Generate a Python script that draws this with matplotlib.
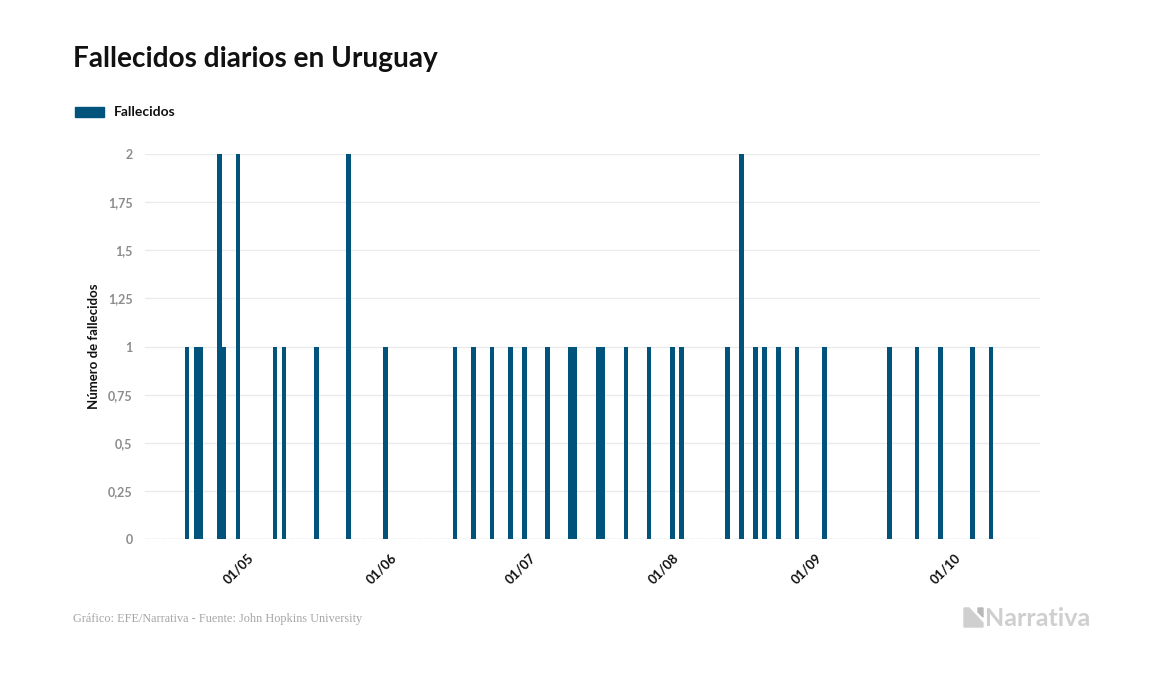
import numpy as np
import pandas as pd
import matplotlib
matplotlib.use("Agg")
import matplotlib.pyplot as plt
import matplotlib.dates as mdates
from matplotlib.patches import Polygon

# datos: días con fallecidos (el resto del periodo es 0)
fechas = ["2020-04-18", "2020-04-20", "2020-04-21", "2020-04-25", "2020-04-26",
          "2020-04-29", "2020-05-07", "2020-05-09", "2020-05-16", "2020-05-23",
          "2020-05-31", "2020-06-15", "2020-06-19", "2020-06-23", "2020-06-27",
          "2020-06-30", "2020-07-05", "2020-07-10", "2020-07-11", "2020-07-16",
          "2020-07-17", "2020-07-22", "2020-07-27", "2020-08-01", "2020-08-03",
          "2020-08-13", "2020-08-16", "2020-08-19", "2020-08-21", "2020-08-24",
          "2020-08-28", "2020-09-03", "2020-09-17", "2020-09-23", "2020-09-28",
          "2020-10-05", "2020-10-09"]
fallecidos = [1, 1, 1, 2, 1,
              2, 1, 1, 1, 2,
              1, 1, 1, 1, 1,
              1, 1, 1, 1, 1,
              1, 1, 1, 1, 1,
              1, 2, 1, 1, 1,
              1, 1, 1, 1, 1,
              1, 1]
inicio, fin = "2020-04-09", "2020-10-11"
meses = ["2020-05-01", "2020-06-01", "2020-07-01", "2020-08-01", "2020-09-01", "2020-10-01"]
y_ticks = [0, 0.25, 0.5, 0.75, 1, 1.25, 1.5, 1.75, 2]

azul = "#00537a"

fig = plt.figure(figsize=(11.57, 6.74), dpi=100)
ax = fig.add_axes([145 / 1157, 1 - 539 / 674, 895 / 1157, 385 / 674])

x = pd.to_datetime(fechas)
ax.bar(x, fallecidos, width=1.0, color=azul, linewidth=0, zorder=3)
# línea de ceros
ax.plot(pd.to_datetime([inicio, fin]), [0, 0], color="#c9d6e0", lw=1, ls=(0, (3, 1)), zorder=2)

t0 = pd.Timestamp("2020-05-01")
ax.set_xlim(t0 - pd.Timedelta(days=22.1), t0 + pd.Timedelta(days=171.6))
ax.set_ylim(0, 2)

ax.set_yticks(y_ticks)
ax.set_yticklabels([("%g" % v).replace(".", ",") for v in y_ticks],
                   color="#8c8c8c", fontsize=9, fontweight="bold", family="Lato")
ax.grid(axis="y", color="#ebebeb", lw=1, zorder=0)
ax.tick_params(axis="y", length=0, pad=9)

ax.set_xticks(pd.to_datetime(meses))
ax.xaxis.set_major_formatter(mdates.DateFormatter("%d/%m"))
plt.setp(ax.get_xticklabels(), rotation=45, ha="right", rotation_mode="anchor",
         fontsize=9.5, fontweight="bold", family="Lato", color="#111111")
ax.tick_params(axis="x", length=0, pad=9)

for s in ax.spines.values():
    s.set_visible(False)

ax.set_ylabel("Número de fallecidos", fontsize=9.5, fontweight="bold", family="Lato",
              color="#111111", labelpad=6)

fig.text(73 / 1157, 1 - 59 / 674, "Fallecidos diarios en Uruguay", fontsize=20.2,
         fontweight="bold", family="Lato", va="center", ha="left", color="#111111")

fig.patches.append(plt.Rectangle((75 / 1157, 1 - 117 / 674), 29 / 1157, 10 / 674,
                                 transform=fig.transFigure, color=azul))
fig.text(114 / 1157, 1 - 112 / 674, "Fallecidos", fontsize=10, fontweight="bold",
         family="Lato", va="center", ha="left", color="#111111")

fig.text(73 / 1157, 1 - 619 / 674, "Gráfico: EFE/Narrativa - Fuente: John Hopkins University",
         fontsize=8.8, family="Liberation Serif", color="#a6a6a6", va="center", ha="left")

# logo Narrativa
gris = "#cfcfcf"
pts = np.array([[964, 627], [964, 608], [969, 608], [983, 623], [983, 627]])
fig.patches.append(Polygon(np.c_[pts[:, 0] / 1157, 1 - pts[:, 1] / 674],
                           closed=True, transform=fig.transFigure, color=gris))
pts2 = np.array([[978, 608], [983, 608], [983, 617], [978, 612]])
fig.patches.append(Polygon(np.c_[pts2[:, 0] / 1157, 1 - pts2[:, 1] / 674],
                           closed=True, transform=fig.transFigure, color="#b8b8b8"))
fig.text(985 / 1157, 1 - 618 / 674, "Narrativa", fontsize=18, fontweight="bold",
         family="Lato", color=gris, va="center", ha="left")

fig.savefig("out.png", dpi=100, facecolor="white")
